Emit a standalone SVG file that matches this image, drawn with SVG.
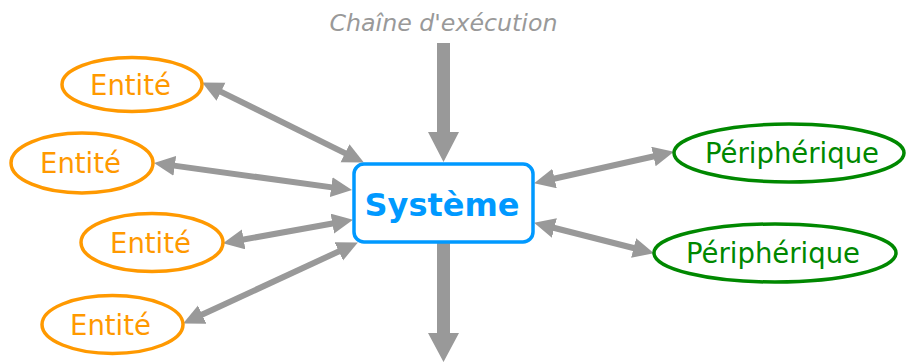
<svg xmlns="http://www.w3.org/2000/svg" width="906" height="362" viewBox="0 0 906 362">
<style>
.ent ellipse{fill:#fff;stroke:#ff9900;stroke-width:3.5}
.ent text{fill:#ff9900;font-family:"DejaVu Sans",Verdana,sans-serif;font-size:27.5px;text-anchor:middle}
.per ellipse{fill:#fff;stroke:#008800;stroke-width:3.5}
.per text{fill:#008800;font-family:"DejaVu Sans",Verdana,sans-serif;font-size:27.5px;text-anchor:middle}
.con line{stroke:#999;stroke-width:6;marker-start:url(#ah);marker-end:url(#ah)}
.big{fill:#999}
</style>
<defs>
<marker id="ah" markerUnits="userSpaceOnUse" markerWidth="22" markerHeight="22" refX="10" refY="10" orient="auto-start-reverse" viewBox="0 0 22 22">
<path d="M0,0 L21,10 L0,20 z" fill="#999"/>
</marker>
</defs>
<rect width="906" height="362" fill="#fff"/>
<text x="443.5" y="31" font-family="'DejaVu Sans',Verdana,sans-serif" font-style="italic" font-size="23.7" fill="#999" text-anchor="middle">Chaîne d'exécution</text>
<g id="connectors" class="con">
<polygon class="big" points="437,43 450,43 450,132 459,132 443.5,162 428,132 437,132"/>
<polygon class="big" points="437,243 450,243 450,333 459,333 443.5,362 428,333 437,333"/>
<line x1="212" y1="87.4" x2="354" y2="157.6"/>
<line x1="164.9" y1="164.4" x2="341.1" y2="188.6"/>
<line x1="233.8" y1="241.2" x2="342.2" y2="221.8"/>
<line x1="193.1" y1="318.8" x2="347.9" y2="247.2"/>
<line x1="544.8" y1="180.8" x2="663.2" y2="154.2"/>
<line x1="544.7" y1="225.5" x2="643.3" y2="250.5"/>
</g>
<g id="systeme">
<rect x="354" y="164" width="179" height="78" rx="10" fill="#fff" stroke="#0099ff" stroke-width="3.5"/>
<text x="442" y="216" font-family="'DejaVu Sans',Verdana,sans-serif" font-weight="bold" font-size="32" fill="#0099ff" text-anchor="middle">Système</text>
</g>
<g id="entite1" class="ent"><ellipse cx="132" cy="84.5" rx="70" ry="27"/><text x="130.5" y="94.5">Entité</text></g>
<g id="entite2" class="ent"><ellipse cx="82" cy="163" rx="71" ry="30"/><text x="80.5" y="173">Entité</text></g>
<g id="entite3" class="ent"><ellipse cx="152" cy="242.5" rx="71" ry="29"/><text x="150.5" y="252.5">Entité</text></g>
<g id="entite4" class="ent"><ellipse cx="112.5" cy="324.5" rx="70.5" ry="29"/><text x="110.5" y="334.5">Entité</text></g>
<g id="peripherique1" class="per"><ellipse cx="789" cy="153" rx="115" ry="29"/><text x="792" y="163">Périphérique</text></g>
<g id="peripherique2" class="per"><ellipse cx="775" cy="253" rx="121" ry="29"/><text x="773" y="263">Périphérique</text></g>
</svg>
